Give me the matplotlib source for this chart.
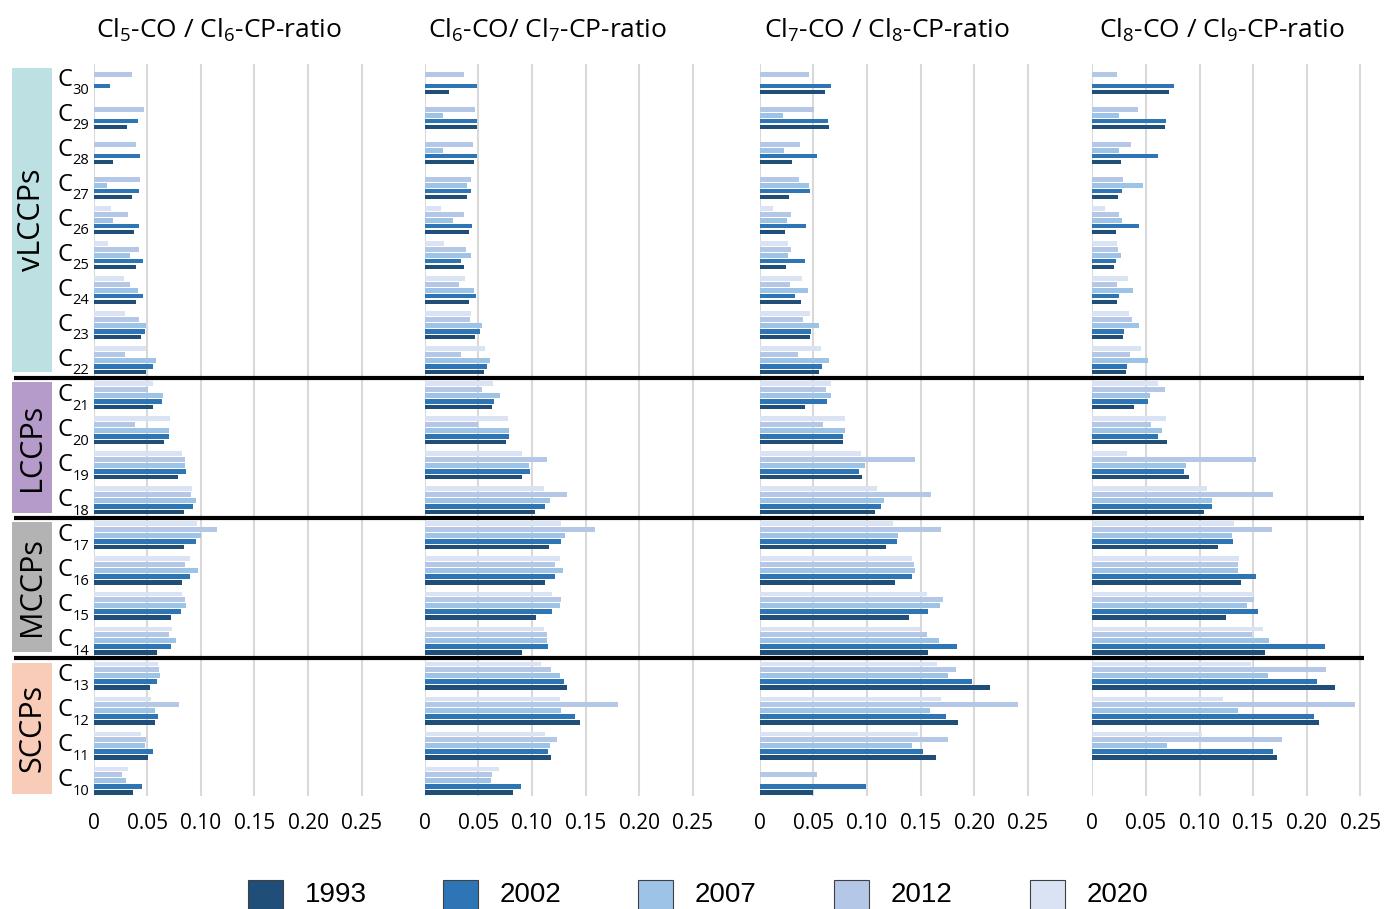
import numpy as np
import matplotlib
matplotlib.use("Agg")
import matplotlib.pyplot as plt
from matplotlib.patches import Rectangle
from matplotlib.lines import Line2D
import matplotlib.transforms as mtransforms

plt.rcParams['font.family'] = ['Open Sans', 'DejaVu Sans']
plt.rcParams['mathtext.default'] = 'regular'

nan = np.nan
chains = [f"C{n}" for n in range(10, 31)]  # C10 .. C30
years = ["1993", "2002", "2007", "2012", "2020"]
colors = ["#1f4e79", "#2e75b6", "#9dc3e6", "#b4c7e7", "#dae3f3"]
titles = ["Cl$_5$-CO / Cl$_6$-CP-ratio", "Cl$_6$-CO/ Cl$_7$-CP-ratio",
          "Cl$_7$-CO / Cl$_8$-CP-ratio", "Cl$_8$-CO / Cl$_9$-CP-ratio"]
xticks = [0, 0.05, 0.10, 0.15, 0.20, 0.25]
xticklabels = ["0", "0.05", "0.10", "0.15", "0.20", "0.25"]

# Panel 1: Cl5-CO / Cl6-CP (C10..C30)
p1_1993 = [0.0366, 0.0506, 0.0571, 0.0522, 0.059, 0.0724, 0.0826, 0.0842, 0.0839, 0.0783, 0.0652, 0.0556, 0.049, 0.044, 0.039, 0.039, 0.038, 0.0357, 0.0183, 0.0307, nan]
p1_2002 = [0.045, 0.055, 0.0596, 0.059, 0.0724, 0.081, 0.0901, 0.0957, 0.0929, 0.0857, 0.0699, 0.0637, 0.0553, 0.048, 0.0463, 0.046, 0.0422, 0.0422, 0.0432, 0.0413, 0.0152]
p1_2007 = [0.0301, 0.0475, 0.0571, 0.0615, 0.0767, 0.0863, 0.0975, 0.1003, 0.0957, 0.0854, 0.0705, 0.065, 0.0584, 0.0484, 0.041, 0.034, 0.0177, 0.0127, nan, nan, nan]
p1_2012 = [0.0264, 0.0484, 0.0795, 0.0606, 0.0702, 0.0854, 0.0854, 0.1149, 0.0907, 0.0851, 0.0388, 0.051, 0.029, 0.042, 0.0335, 0.0425, 0.032, 0.0435, 0.0394, 0.0469, 0.0357]
p1_2020 = [0.0317, 0.0438, 0.0531, 0.0596, 0.0727, 0.0823, 0.0894, 0.0966, 0.0919, 0.0826, 0.0711, 0.055, 0.0484, 0.029, 0.0286, 0.0137, 0.016, nan, nan, nan, nan]

# Panel 2: Cl6-CO / Cl7-CP
p2_1993 = [0.0823, 0.1177, 0.145, 0.1329, 0.0907, 0.1034, 0.1124, 0.1158, 0.1031, 0.0907, 0.0755, 0.063, 0.0553, 0.0472, 0.0416, 0.037, 0.0416, 0.0394, 0.0463, 0.049, 0.0227]
p2_2002 = [0.09, 0.1146, 0.1398, 0.1298, 0.1152, 0.1186, 0.1217, 0.127, 0.1124, 0.0978, 0.0789, 0.0643, 0.0578, 0.0512, 0.0478, 0.0335, 0.0438, 0.0435, 0.0484, 0.049, 0.0484]
p2_2007 = [0.0618, 0.1165, 0.1267, 0.1264, 0.114, 0.1264, 0.1292, 0.1307, 0.1168, 0.0969, 0.0786, 0.0702, 0.0609, 0.0534, 0.0463, 0.0435, 0.0264, 0.0394, 0.0168, 0.0168, nan]
p2_2012 = [0.063, 0.1236, 0.1804, 0.118, 0.114, 0.1273, 0.1217, 0.159, 0.1332, 0.114, 0.0497, 0.0537, 0.0335, 0.0422, 0.032, 0.0385, 0.0363, 0.0429, 0.0447, 0.0469, 0.037]
p2_2020 = [0.0689, 0.1124, 0.1258, 0.1087, 0.1109, 0.1186, 0.1258, 0.127, 0.1109, 0.091, 0.078, 0.0637, 0.0565, 0.0435, 0.0376, 0.0177, 0.0149, nan, nan, nan, nan]

# Panel 3: Cl7-CO / Cl8-CP
p3_1993 = [0.0498, 0.1641, 0.1846, 0.2148, 0.1566, 0.1389, 0.1264, 0.1177, 0.1074, 0.0956, 0.0775, 0.0423, 0.0557, 0.0473, 0.0386, 0.0249, 0.0237, 0.0274, 0.0305, 0.0644, 0.0613]
p3_2002 = [0.0996, 0.1519, 0.174, 0.198, 0.184, 0.1569, 0.142, 0.128, 0.1127, 0.0922, 0.0781, 0.0626, 0.0582, 0.0483, 0.0333, 0.0423, 0.0433, 0.0473, 0.0539, 0.0638, 0.0669]
p3_2007 = [nan, 0.1417, 0.1591, 0.1759, 0.1675, 0.1678, 0.1448, 0.1292, 0.1158, 0.0981, 0.0797, 0.0669, 0.0651, 0.0551, 0.0451, 0.0265, 0.0252, 0.0461, 0.023, 0.0215, nan]
p3_2012 = [0.0535, 0.1753, 0.241, 0.1834, 0.156, 0.1709, 0.1441, 0.1694, 0.1594, 0.1451, 0.0592, 0.0616, 0.0361, 0.0408, 0.028, 0.0296, 0.029, 0.0367, 0.038, 0.051, 0.0458]
p3_2020 = [nan, 0.1476, 0.1694, 0.165, 0.1497, 0.156, 0.142, 0.1242, 0.1093, 0.0946, 0.08, 0.0663, 0.0576, 0.0473, 0.0399, 0.0262, 0.0121, nan, nan, nan, nan]

# Panel 4: Cl8-CO / Cl9-CP
p4_1993 = [nan, 0.1723, 0.2118, 0.2267, 0.1614, 0.1247, 0.139, 0.1169, 0.1045, 0.0902, 0.0693, 0.0392, 0.0314, 0.0286, 0.023, 0.0205, 0.0224, 0.0236, 0.0271, 0.0678, 0.0715]
p4_2002 = [nan, 0.1688, 0.2071, 0.2099, 0.217, 0.1549, 0.153, 0.1315, 0.1117, 0.0858, 0.0609, 0.0519, 0.0326, 0.0292, 0.0252, 0.0224, 0.0435, 0.028, 0.0609, 0.069, 0.0759]
p4_2007 = [nan, 0.0693, 0.1362, 0.1639, 0.1645, 0.1446, 0.1359, 0.1306, 0.1119, 0.0874, 0.065, 0.0538, 0.0519, 0.0438, 0.0379, 0.0267, 0.028, 0.0476, 0.0249, 0.0252, nan]
p4_2012 = [nan, 0.1769, 0.2453, 0.2183, 0.1489, 0.1511, 0.1359, 0.1679, 0.1688, 0.1524, 0.055, 0.0675, 0.0351, 0.037, 0.0233, 0.0236, 0.0252, 0.0289, 0.0358, 0.0429, 0.023]
p4_2020 = [nan, 0.1023, 0.1219, 0.1477, 0.1595, 0.1502, 0.1371, 0.1325, 0.1067, 0.0326, 0.069, 0.0613, 0.0451, 0.0342, 0.033, 0.0233, 0.0115, nan, nan, nan, nan]

panels = [
    [p1_1993, p1_2002, p1_2007, p1_2012, p1_2020],
    [p2_1993, p2_2002, p2_2007, p2_2012, p2_2020],
    [p3_1993, p3_2002, p3_2007, p3_2012, p3_2020],
    [p4_1993, p4_2002, p4_2007, p4_2012, p4_2020],
]

groups = [("vLCCPs", "#bde1e3"), ("LCCPs", "#b59bc9"),
          ("MCCPs", "#b3b3b3"), ("SCCPs", "#f8ccb8")]

W, H = 1391, 909
fig = plt.figure(figsize=(W / 100, H / 100), dpi=100)

zero_px = [93.7, 424.7, 759.7, 1092.3]
px_per_unit = 1072.0
xmax = 0.28
ybot_px, ytop_px = 796.4, 64.4
GROUP = 6
ylim = (-0.7, 124.7)

axes = []
for k in range(4):
    left = zero_px[k] / W
    width = xmax * px_per_unit / W
    ax = fig.add_axes([left, 1 - ybot_px / H, width, (ybot_px - ytop_px) / H])
    axes.append(ax)
    base = np.arange(len(chains)) * GROUP
    for j, yr in enumerate(years):
        vals = np.array(panels[k][j], dtype=float)
        ax.barh(base + j, vals, height=0.8, color=colors[j], zorder=3)
    ax.set_xlim(0, xmax)
    ax.set_ylim(*ylim)
    ax.set_xticks(xticks)
    ax.set_xticklabels(xticklabels, fontsize=15)
    ax.tick_params(axis='x', length=0, pad=12)
    ax.grid(axis='x', color='#d9d9d9', linewidth=1.5, zorder=0)
    ax.set_yticks([])
    for s in ax.spines.values():
        s.set_visible(False)
    fig.text([219, 548, 887, 1222][k] / W, 1 - 30 / H, titles[k], fontsize=19,
             ha='center', va='center')

# category labels "C" + subscript chain length
ltrans = mtransforms.blended_transform_factory(fig.transFigure, axes[0].transData)
for i, c in enumerate(chains):
    b = i * GROUP
    fig.text(72 / W, b + 1.0, "C", transform=ltrans, fontsize=17,
             ha='right', va='baseline')
    fig.text(72.5 / W, b - 0.42, c[1:], transform=ltrans, fontsize=10.5,
             ha='left', va='baseline')

# separator lines spanning the whole figure width
for ysep in [71, 47, 23]:
    fig.add_artist(Line2D([14 / W, 1364 / W], [ysep, ysep], transform=ltrans,
                          color='black', linewidth=3.0, solid_capstyle='butt'))

# group label boxes
box_px = {"vLCCPs": (68.3, 371.7), "LCCPs": (381.7, 512.7),
          "MCCPs": (521.7, 652.3), "SCCPs": (662.7, 793.7)}
for name, col in groups:
    t, b = box_px[name]
    fig.add_artist(Rectangle((12 / W, 1 - b / H), 40 / W, (b - t) / H,
                             transform=fig.transFigure, facecolor=col, edgecolor='none'))
    fig.text(32 / W, 1 - (t + b) / 2 / H, name, rotation=90, fontsize=22,
             ha='center', va='center')

# legend
leg_x = [248, 443, 638, 834, 1030]
for j, yr in enumerate(years):
    fig.add_artist(Rectangle((leg_x[j] / W, 1 - 915 / H), 35 / W, 35 / H,
                             transform=fig.transFigure, facecolor=colors[j],
                             edgecolor='#404040', linewidth=0.8))
    fig.text((leg_x[j] + 57) / W, 1 - 895 / H, yr, fontsize=20,
             family='Liberation Sans', ha='left', va='center')

fig.savefig("out.png", dpi=100)
